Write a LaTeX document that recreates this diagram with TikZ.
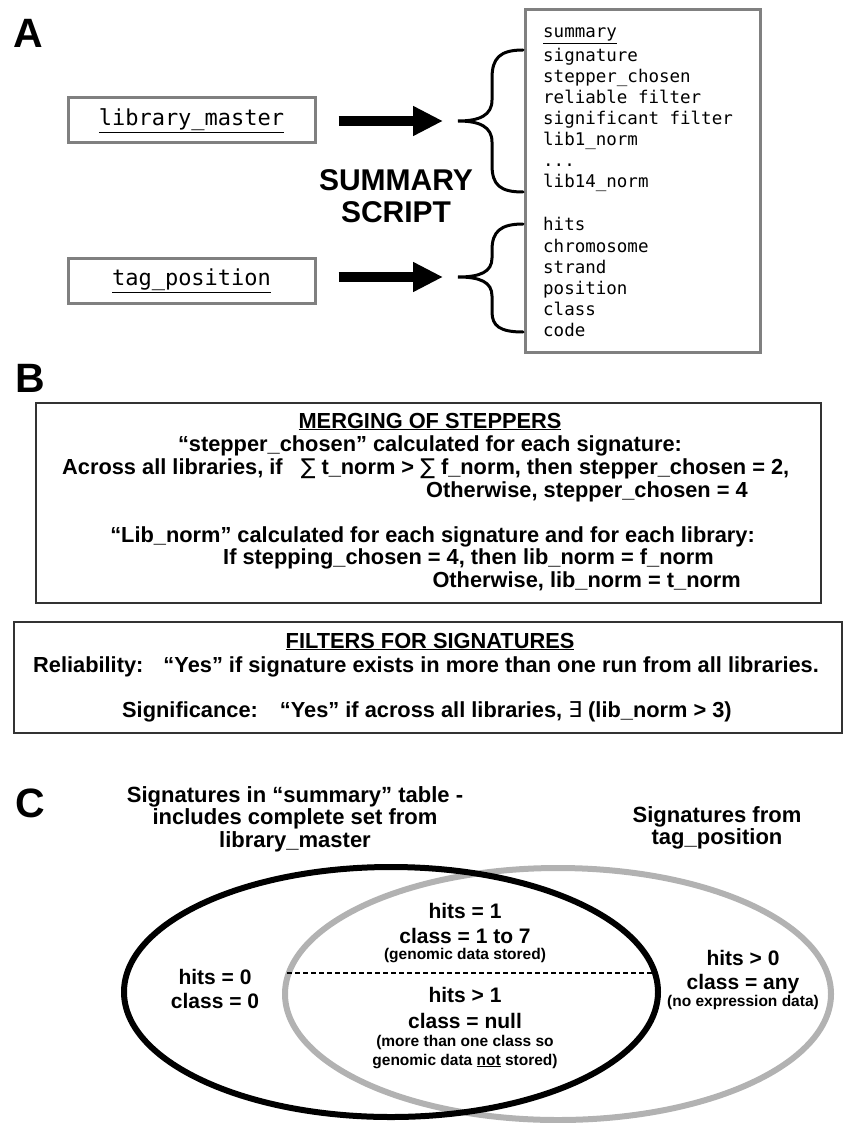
\documentclass[tikz,border=0pt]{standalone}
\usepackage{fontspec}
\setmainfont{Liberation Sans}
\setmonofont{DejaVu Sans Mono}
\newfontfamily\symfont{DejaVu Sans}
\usetikzlibrary{arrows.meta,positioning}

\begin{document}
\begin{tikzpicture}[
    x=1pt, y=-1pt,
    every node/.style={inner sep=0pt, font=\bfseries\fontsize{21}{24}\selectfont},
    panel/.style={anchor=base west, font=\bfseries\fontsize{41}{41}\selectfont},
    tablebox/.style={draw=black!50, line width=3pt},
    tablename/.style={tablebox, minimum width=247pt, minimum height=45pt, font=\ttfamily\fontsize{22}{22}\selectfont},
    field/.style={anchor=base west, font=\ttfamily\fontsize{17.5}{17.5}\selectfont},
    fatarrow/.style={-{Triangle[length=30pt,width=28pt]}, line width=10pt},
    curly/.style={line width=3pt, line cap=round},
    rulebox/.style={draw=black!80, line width=2pt},
    rule/.style={font=\bfseries\fontsize{21.8}{24}\selectfont},
    title/.style={align=center, font=\bfseries\fontsize{22}{22.5}\selectfont},
    note/.style={font=\bfseries\fontsize{15.5}{15.5}\selectfont},
    setline/.style={line width=6pt}
]
  \useasboundingbox (0,0) rectangle (844,1123);

  % panel A
  \node[panel] (labA) at (13,48) {A};
  \node[tablename] (libmaster) at (191.5,120.5) {\underline{library\_master}};
  \node[tablename] (tagpos) at (191.5,280.5) {\underline{tag\_position}};
  \node[tablebox, minimum width=235pt, minimum height=342pt] (summary) at (642.5,181) {};
  \node[font=\bfseries\fontsize{30}{32}\selectfont, align=center] (script) at (396,196) {SUMMARY\\SCRIPT};

  \node[field] (fsum) at (543,38) {\underline{summary}};
  \node[field] (fsig) at (543,62) {signature};
  \node[field] (fstep) at (543,83) {stepper\_chosen};
  \node[field] (frel) at (543,104) {reliable filter};
  \node[field] (fsignif) at (543,125) {significant filter};
  \node[field] (flib1) at (543,146) {lib1\_norm};
  \node[field] (fdots) at (543,167) {...};
  \node[field] (flib14) at (543,188) {lib14\_norm};
  \node[field] (fhits) at (543,231) {hits};
  \node[field] (fchrom) at (543,252) {chromosome};
  \node[field] (fstrand) at (543,273) {strand};
  \node[field] (fpos) at (543,294) {position};
  \node[field] (fclass) at (543,315) {class};
  \node[field] (fcode) at (543,336) {code};

  % braces
  \coordinate (tipA) at (458,121);
  \coordinate (tipB) at (458,277);
  \draw[curly] (523,50) .. controls (500,50) and (492,58) .. (492,78) -- (492,100)
    .. controls (492,115) and (480,121) .. (tipA)
    .. controls (480,121) and (492,127) .. (492,142) -- (492,165)
    .. controls (492,185) and (500,192) .. (523,192);
  \draw[curly] (523,224) .. controls (500,224) and (492,232) .. (492,250) -- (492,258)
    .. controls (492,272) and (480,277) .. (tipB)
    .. controls (480,277) and (492,282) .. (492,296) -- (492,312)
    .. controls (492,326) and (500,332) .. (523,332);

  % arrows
  \draw[fatarrow, shorten <=22pt, shorten >=15pt] (libmaster.east |- tipA) -- (tipA);
  \draw[fatarrow, shorten <=22pt, shorten >=15pt] (tagpos.east |- tipB) -- (tipB);

  % panel B
  \node[panel] (labB) at (15,392) {B};
  \node[rulebox, minimum width=785pt, minimum height=200pt] (merge) at (428.5,503) {};
  \node[rulebox, minimum width=828pt, minimum height=111pt] (filters) at (428,677.5) {};

  \node[rule, anchor=base] (mhead) at (430,428) {\underline{MERGING OF STEPPERS}};
  \node[rule, anchor=base] (mline1) at (430,451) {“stepper\_chosen” calculated for each signature:};
  \node[rule, anchor=base west] (mline2) at (62,474) {Across all libraries, if\hspace{12pt} {\symfont\mdseries ∑} t\_norm > {\symfont\mdseries ∑} f\_norm, then stepper\_chosen = 2,};
  \node[rule, anchor=base east] (mline3) at (748,497) {Otherwise, stepper\_chosen = 4};
  \node[rule, anchor=base east] (mline4) at (755,542) {“Lib\_norm” calculated for each signature and for each library:};
  \node[rule, anchor=base east] (mline5) at (714,564) {If stepping\_chosen = 4, then lib\_norm = f\_norm};
  \node[rule, anchor=base east] (mline6) at (741,587) {Otherwise, lib\_norm = t\_norm};

  \node[rule, anchor=base] (fhead) at (430,648) {\underline{FILTERS FOR SIGNATURES}};
  \node[rule, anchor=base west] (fline1) at (33,672) {Reliability:\hspace{12pt} “Yes” if signature exists in more than one run from all libraries.};
  \node[rule, anchor=base west] (fline2) at (122,717) {Significance:\hspace{14pt} “Yes” if across all libraries, {\symfont\mdseries ∃} (lib\_norm > 3)};

  % panel C
  \node[panel] (labC) at (15,817) {C};
  \node[title] (sumtitle) at (295,819) {Signatures in “summary” table -\\includes complete set from\\library\_master};
  \node[title] (tagtitle) at (717,828) {Signatures from\\tag\_position};

  \draw[setline, black!30] (558,994) ellipse [x radius=273, y radius=126];
  \draw[setline] (391,992) ellipse [x radius=267, y radius=125];

  \coordinate (cutL) at (287,973);
  \coordinate (cutR) at (658,973);
  \draw[dashed, line width=1.3pt, dash pattern=on 5pt off 3pt] (cutL) -- (cutR);

  \node[anchor=base] (hits0) at (215,984) {hits = 0};
  \node[anchor=base] (class0) at (215,1008) {class = 0};
  \node[anchor=base] (hits1) at (465,918) {hits = 1};
  \node[anchor=base] (class17) at (465,943) {class = 1 to 7};
  \node[note, anchor=base] (stored) at (465,959) {(genomic data stored)};
  \node[anchor=base] (hitsmany) at (465,1002) {hits > 1};
  \node[anchor=base] (classnull) at (465,1028) {class = null};
  \node[note, anchor=base] (notstored1) at (465,1046) {(more than one class so};
  \node[note, anchor=base] (notstored2) at (465,1065) {genomic data \underline{not} stored)};
  \node[anchor=base] (hitsany) at (743,965) {hits > 0};
  \node[anchor=base] (classany) at (743,989) {class = any};
  \node[note, anchor=base] (noexpr) at (743,1006) {(no expression data)};
\end{tikzpicture}
\end{document}
